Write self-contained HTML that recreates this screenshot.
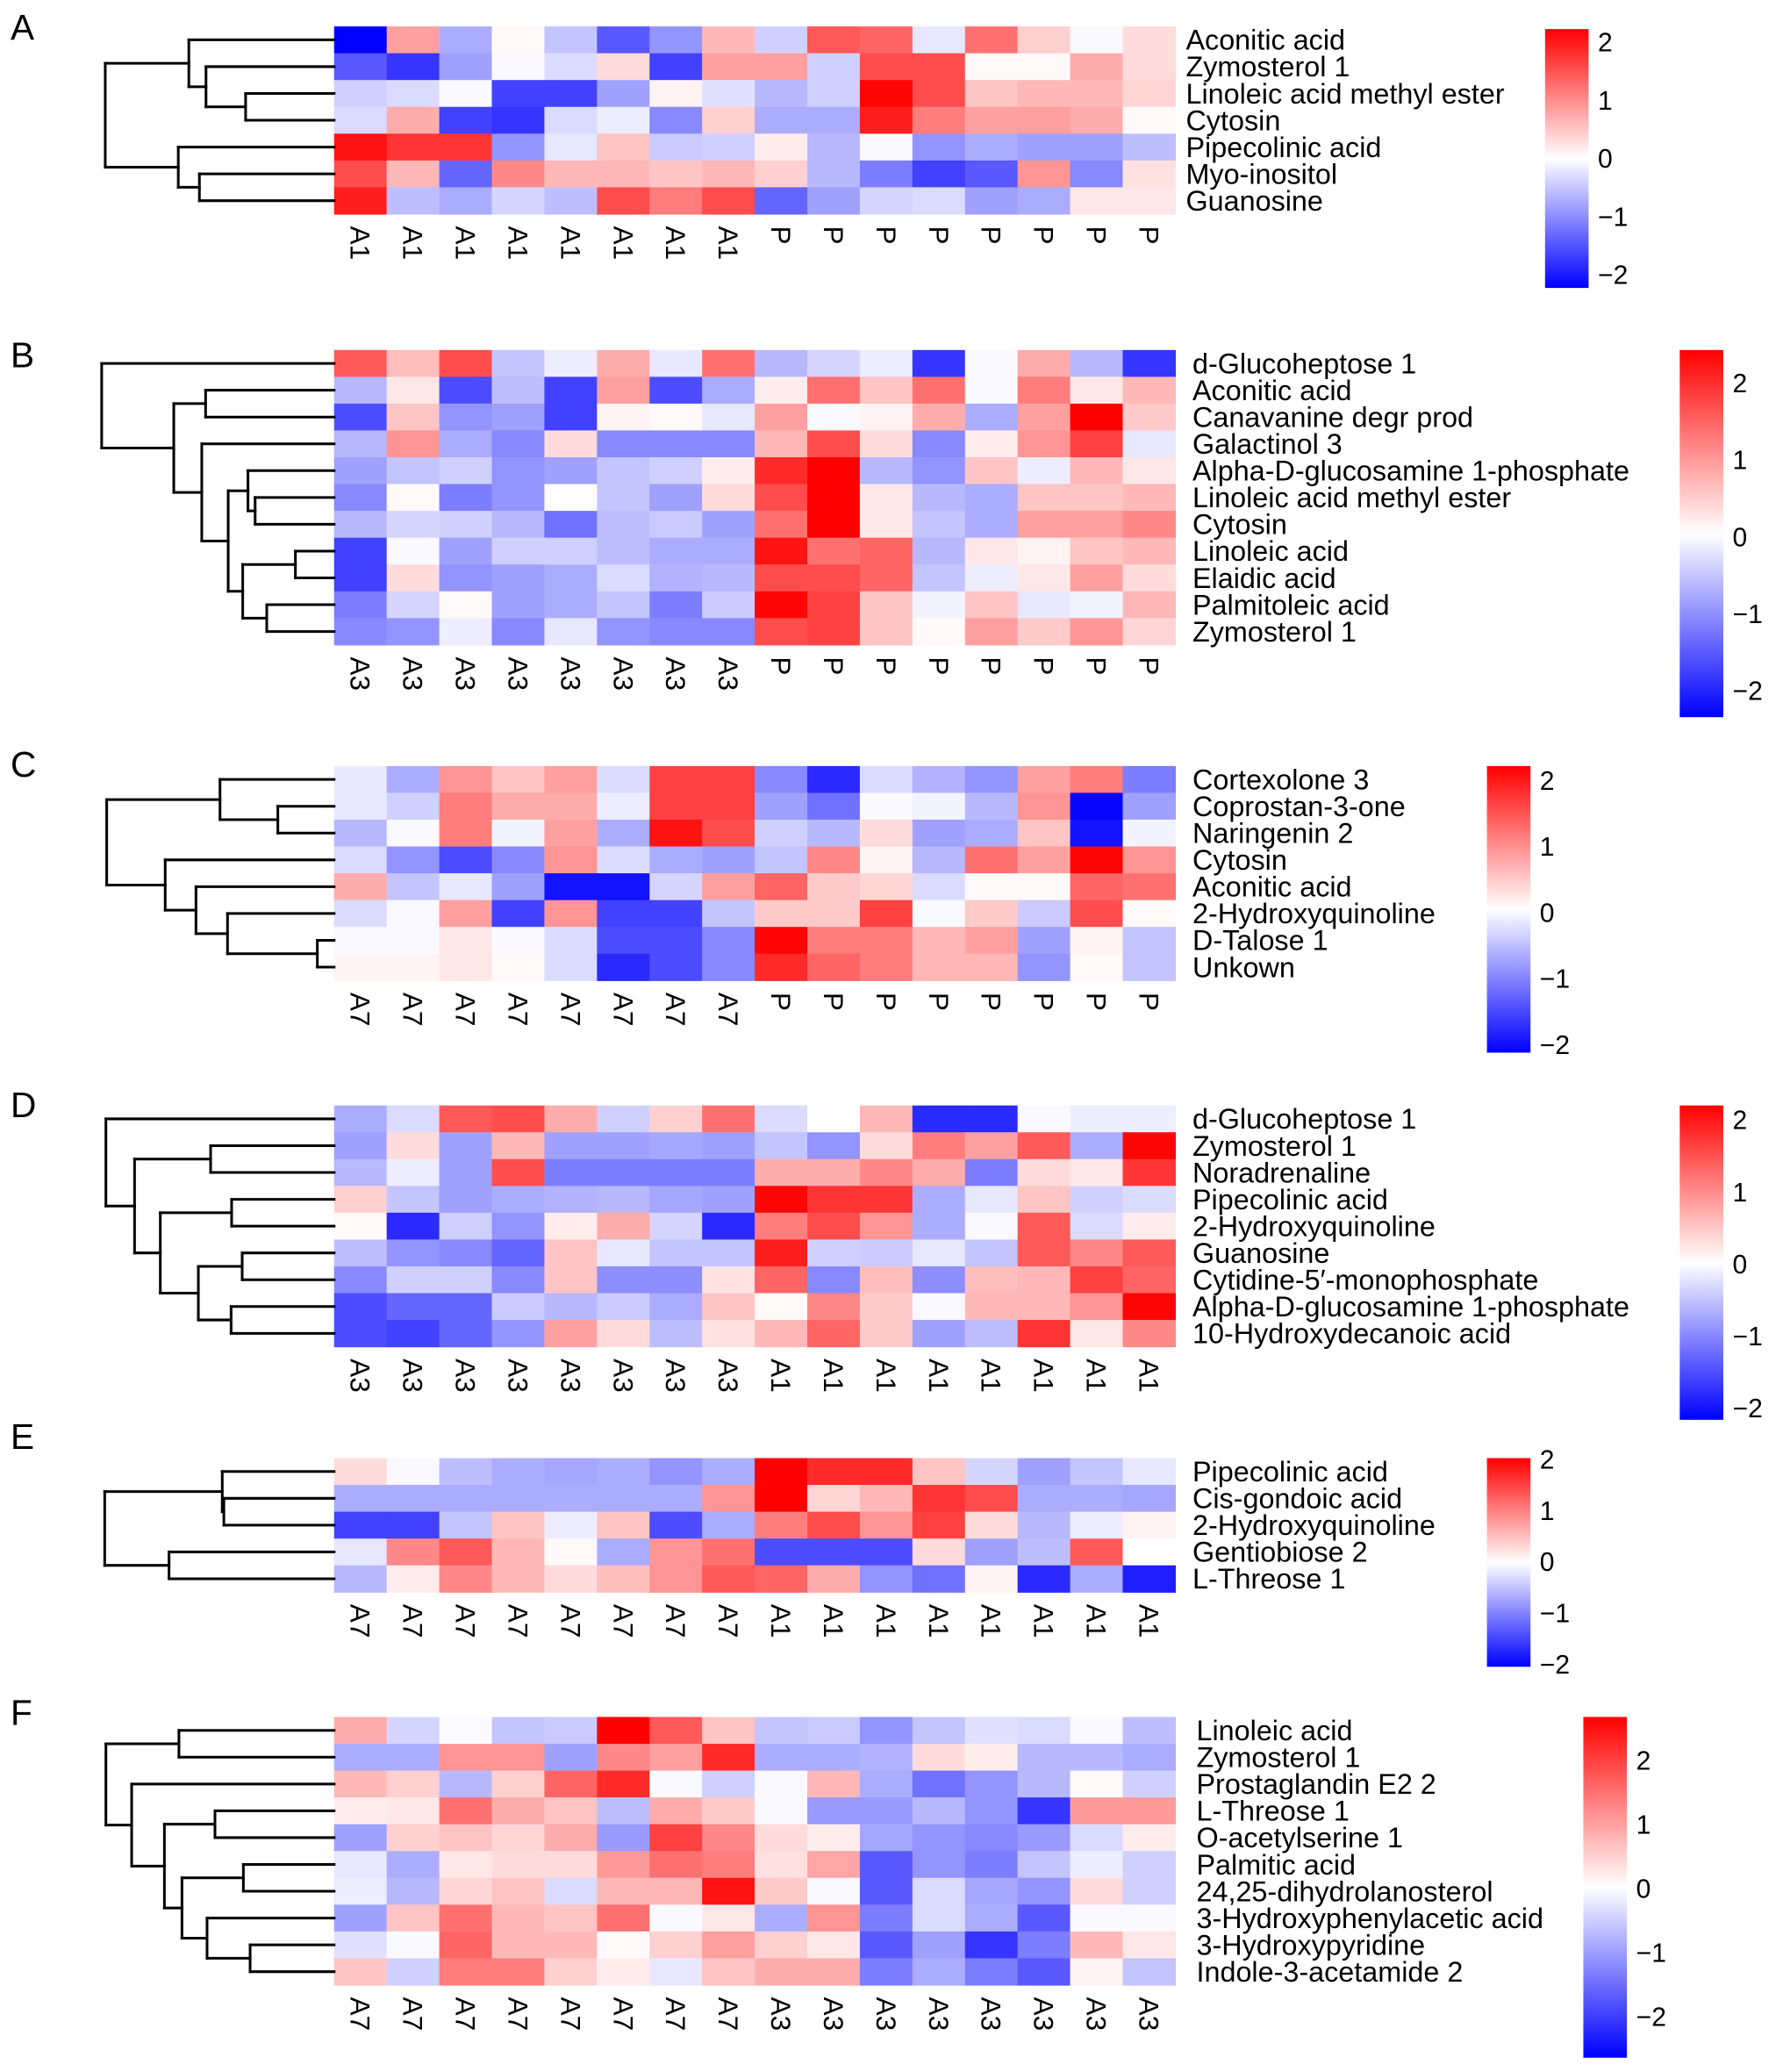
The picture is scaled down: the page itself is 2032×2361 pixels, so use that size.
<!DOCTYPE html>
<html><head><meta charset="utf-8"><style>
html,body{margin:0;padding:0;background:#fff;}
svg{display:block;font-family:"Liberation Sans",sans-serif;}
</style></head><body>
<svg id="fig" width="2032" height="2361" viewBox="0 0 1350.2 1568.8" xmlns="http://www.w3.org/2000/svg"></svg>
<script>
// ---- data ----
const rowsA = ["Aconitic acid","Zymosterol 1","Linoleic acid methyl ester","Cytosin","Pipecolinic acid","Myo-inositol","Guanosine"];
const colsA = ["A1","A1","A1","A1","A1","A1","A1","A1","P","P","P","P","P","P","P","P"];
const valsA = [
[-2.2,0.8,-0.7,0.05,-0.5,-1.4,-0.9,0.6,-0.4,1.4,1.3,-0.2,1.2,0.4,-0.05,0.3],
[-1.4,-1.7,-0.8,-0.05,-0.3,0.3,-1.6,0.8,0.8,-0.4,1.5,1.5,0.05,0.05,0.7,0.3],
[-0.4,-0.3,-0.05,-1.6,-1.6,-0.8,0.1,-0.25,-0.6,-0.4,2.1,1.5,0.5,0.6,0.6,0.35],
[-0.3,0.7,-1.6,-1.7,-0.3,-0.15,-1.0,0.4,-0.7,-0.7,1.9,1.1,0.8,0.8,0.7,0.05],
[2.0,1.7,1.7,-0.9,-0.2,0.5,-0.45,-0.4,0.15,-0.6,-0.05,-0.9,-0.7,-0.8,-0.8,-0.55],
[1.5,0.6,-1.3,1.0,0.6,0.6,0.5,0.6,0.4,-0.6,-1.1,-1.6,-1.4,0.9,-1.0,0.25],
[1.9,-0.55,-0.7,-0.35,-0.55,1.5,1.1,1.5,-1.3,-0.8,-0.35,-0.3,-0.8,-0.7,0.2,0.2]];
const rowsB = ["d-Glucoheptose 1","Aconitic acid","Canavanine degr prod","Galactinol 3","Alpha-D-glucosamine 1-phosphate","Linoleic acid methyl ester","Cytosin","Linoleic acid","Elaidic acid","Palmitoleic acid","Zymosterol 1"];
const colsB = ["A3","A3","A3","A3","A3","A3","A3","A3","P","P","P","P","P","P","P","P"];
const valsB = [
[1.4,0.55,1.5,-0.5,-0.15,0.7,-0.2,1.2,-0.6,-0.35,-0.15,-1.7,-0.05,0.7,-0.6,-1.7],
[-0.6,0.2,-1.5,-0.55,-1.6,0.8,-1.5,-0.7,0.15,1.2,0.5,1.2,-0.05,1.1,0.2,0.6],
[-1.5,0.5,-0.9,-0.8,-1.6,0.1,0.05,-0.2,0.8,-0.05,0.1,0.7,-0.7,0.8,2.2,0.45],
[-0.6,0.9,-0.7,-1.0,0.3,-1.0,-1.0,-1.0,0.6,1.5,0.3,-1.0,0.15,0.9,1.6,-0.2],
[-0.8,-0.5,-0.4,-0.9,-0.8,-0.5,-0.4,0.15,1.8,2.2,-0.6,-0.9,0.5,-0.15,0.6,0.2],
[-1.0,0.05,-1.1,-0.9,0.02,-0.5,-0.8,0.3,1.5,2.2,0.2,-0.6,-0.7,0.5,0.5,0.6],
[-0.6,-0.35,-0.4,-0.6,-1.2,-0.55,-0.45,-0.8,1.2,2.2,0.2,-0.5,-0.7,0.8,0.8,1.0],
[-1.6,-0.05,-0.8,-0.4,-0.4,-0.55,-0.7,-0.7,2.0,1.2,1.3,-0.6,0.2,0.1,0.5,0.6],
[-1.6,0.3,-0.9,-0.8,-0.7,-0.3,-0.65,-0.6,1.5,1.5,1.3,-0.5,-0.15,0.2,0.8,0.3],
[-1.1,-0.35,0.05,-0.8,-0.7,-0.5,-1.1,-0.45,2.1,1.6,0.5,-0.1,0.5,-0.2,-0.1,0.6],
[-1.0,-0.9,-0.15,-1.0,-0.2,-0.9,-1.0,-1.0,1.5,1.6,0.5,0.05,0.8,0.45,0.9,0.35]];
const rowsC = ["Cortexolone 3","Coprostan-3-one","Naringenin 2","Cytosin","Aconitic acid","2-Hydroxyquinoline","D-Talose 1","Unkown"];
const colsC = ["A7","A7","A7","A7","A7","A7","A7","A7","P","P","P","P","P","P","P","P"];
const valsC = [
[-0.2,-0.7,0.9,0.5,0.8,-0.3,1.6,1.6,-1.0,-1.8,-0.3,-0.65,-0.9,0.8,1.1,-1.1],
[-0.2,-0.4,1.1,0.7,0.7,-0.15,1.6,1.6,-0.8,-1.2,-0.05,-0.1,-0.6,0.9,-2.1,-0.8],
[-0.6,-0.05,1.1,-0.1,0.8,-0.7,2.0,1.5,-0.4,-0.6,0.3,-0.8,-0.7,0.5,-2.0,-0.1],
[-0.3,-0.9,-1.5,-1.0,0.9,-0.3,-0.7,-0.8,-0.5,1.0,0.1,-0.6,1.2,0.8,2.1,0.9],
[0.7,-0.5,-0.2,-0.8,-2.0,-2.0,-0.35,0.8,1.3,0.45,0.35,-0.3,0.05,0.05,1.3,1.2],
[-0.3,-0.05,0.8,-1.6,0.9,-1.6,-1.6,-0.5,0.45,0.45,1.6,-0.05,0.45,-0.45,1.5,0.05],
[-0.05,-0.05,0.2,-0.05,-0.3,-1.5,-1.5,-1.0,2.1,1.1,1.1,0.6,0.8,-0.8,0.1,-0.5],
[0.1,0.1,0.2,0.05,-0.3,-1.8,-1.5,-1.0,1.8,1.3,1.1,0.6,0.6,-0.9,0.05,-0.5]];
const rowsD = ["d-Glucoheptose 1","Zymosterol 1","Noradrenaline","Pipecolinic acid","2-Hydroxyquinoline","Guanosine","Cytidine-5\u2032-monophosphate","Alpha-D-glucosamine 1-phosphate","10-Hydroxydecanoic acid"];
const colsD = ["A3","A3","A3","A3","A3","A3","A3","A3","A1","A1","A1","A1","A1","A1","A1","A1"];
const valsD = [
[-0.7,-0.3,1.4,1.5,0.7,-0.4,0.4,1.2,-0.3,0.02,0.6,-1.8,-1.8,-0.05,-0.15,-0.15],
[-0.8,0.3,-0.8,0.6,-0.8,-0.8,-0.75,-0.8,-0.5,-0.9,0.3,1.1,0.8,1.4,-0.7,2.1],
[-0.6,-0.15,-0.8,1.5,-1.1,-1.1,-1.1,-1.1,0.7,0.7,1.0,0.7,-1.1,0.3,0.2,1.7],
[0.4,-0.5,-0.8,-0.7,-0.65,-0.6,-0.75,-0.8,2.1,1.7,1.7,-0.7,-0.2,0.5,-0.4,-0.3],
[0.05,-1.8,-0.4,-0.9,0.15,0.7,-0.35,-1.8,1.1,1.5,0.9,-0.7,-0.05,1.4,-0.3,0.15],
[-0.55,-0.9,-1.0,-1.3,0.5,-0.2,-0.5,-0.5,1.9,-0.4,-0.45,-0.2,-0.5,1.4,1.0,1.4],
[-1.0,-0.4,-0.4,-1.0,0.5,-0.95,-0.95,0.25,1.3,-1.0,0.55,-0.95,0.55,0.6,1.6,1.3],
[-1.5,-1.3,-1.3,-0.45,-0.6,-0.45,-0.7,0.5,0.05,1.0,0.45,-0.05,0.6,0.6,0.9,2.1],
[-1.5,-1.6,-1.3,-0.9,0.8,0.3,-0.55,0.25,0.6,1.3,0.45,-0.8,-0.55,1.7,0.2,1.0]];
const rowsE = ["Pipecolinic acid","Cis-gondoic acid","2-Hydroxyquinoline","Gentiobiose 2","L-Threose 1"];
const colsE = ["A7","A7","A7","A7","A7","A7","A7","A7","A1","A1","A1","A1","A1","A1","A1","A1"];
const valsE = [
[0.3,-0.05,-0.55,-0.7,-0.75,-0.7,-0.9,-0.7,2.2,1.8,1.8,0.5,-0.35,-0.8,-0.5,-0.2],
[-0.7,-0.7,-0.7,-0.7,-0.7,-0.7,-0.7,0.9,2.2,0.35,0.6,1.7,1.5,-0.7,-0.7,-0.75],
[-1.6,-1.6,-0.5,0.5,-0.15,0.5,-1.5,-0.7,1.1,1.5,0.9,1.6,0.3,-0.6,-0.15,0.1],
[-0.2,1.0,1.4,0.6,0.05,-0.7,0.9,1.2,-1.5,-1.5,-1.5,0.3,-0.8,-0.55,1.4,0.02],
[-0.6,0.15,1.0,0.6,0.3,0.55,0.9,1.4,1.3,0.7,-0.9,-1.2,0.1,-1.8,-0.7,-1.9]];
const rowsF = ["Linoleic acid","Zymosterol 1","Prostaglandin E2 2","L-Threose 1","O-acetylserine 1","Palmitic acid","24,25-dihydrolanosterol","3-Hydroxyphenylacetic acid","3-Hydroxypyridine","Indole-3-acetamide 2"];
const colsF = ["A7","A7","A7","A7","A7","A7","A7","A7","A3","A3","A3","A3","A3","A3","A3","A3"];
const valsF = [
[0.7,-0.35,-0.03,-0.5,-0.45,2.2,1.4,0.5,-0.5,-0.45,-0.9,-0.5,-0.25,-0.3,-0.05,-0.55],
[-0.7,-0.7,0.9,0.9,-0.8,1.0,0.8,1.8,-0.7,-0.7,-0.65,0.3,0.15,-0.6,-0.6,-0.7],
[0.6,0.4,-0.6,0.4,1.3,1.8,-0.05,-0.4,-0.05,0.6,-0.7,-1.2,-0.9,-0.6,0.05,-0.4],
[0.15,0.2,1.2,0.7,0.5,-0.55,0.7,0.45,-0.05,-0.85,-0.85,-0.6,-0.9,-1.7,0.85,0.85],
[-0.8,0.4,0.5,0.35,0.7,-0.85,1.6,1.0,0.3,0.15,-0.75,-0.9,-1.0,-0.85,-0.3,0.15],
[-0.2,-0.7,0.2,0.3,0.3,0.85,1.2,1.1,0.25,0.75,-1.4,-0.9,-1.1,-0.5,-0.15,-0.4],
[-0.15,-0.6,0.35,0.5,-0.3,0.6,0.6,2.0,0.45,-0.05,-1.4,-0.3,-0.75,-0.9,0.3,-0.4],
[-0.8,0.5,1.2,0.6,0.5,1.2,-0.05,0.2,-0.7,0.9,-1.1,-0.3,-0.7,-1.4,-0.05,-0.05],
[-0.25,-0.05,1.3,0.6,0.6,0.05,0.4,0.8,0.4,0.2,-1.4,-0.8,-1.7,-1.1,0.6,0.2],
[0.5,-0.4,1.1,1.1,0.4,0.15,-0.2,0.5,0.7,0.7,-1.1,-0.7,-1.1,-1.4,0.1,-0.5]];
const legendTicks = [2,1,0,-1,-2];

// ---- layout (display units) ----
const panels = [
 {id:"a",letter:"A",ly:21,rows:rowsA,cols:colsA,vals:valsA,top:20,lx:898,
  tree:{x:79.7,a:{x:143,a:0,b:{x:156,a:1,b:{x:186,a:2,b:3}}},b:{x:135,a:4,b:{x:151,a:5,b:6}}},
  leg:{x:1170,top:22,t2:32,tm2:208,bot:218}},
 {id:"b",letter:"B",ly:269,rows:rowsB,cols:colsB,vals:valsB,top:265,lx:903,
  tree:{x:77,a:0,b:{x:131.6,a:{x:155.7,a:1,b:2},b:{x:152.8,a:3,b:{x:172.8,a:{x:187.8,a:4,b:{x:193.2,a:5,b:6}},b:{x:183.8,a:{x:223.7,a:7,b:8},b:{x:202,a:9,b:10}}}}}},
  leg:{x:1272,top:265,t2:290,tm2:523,bot:543}},
 {id:"c",letter:"C",ly:579,rows:rowsC,cols:colsC,vals:valsC,top:580,lx:903,
  tree:{x:80.8,a:{x:166.6,a:0,b:{x:210.4,a:1,b:2}},b:{x:125.1,a:3,b:{x:148.4,a:4,b:{x:172.3,a:5,b:{x:240.3,a:6,b:7}}}}},
  leg:{x:1126,top:580,t2:591,tm2:791,bot:797}},
 {id:"d",letter:"D",ly:837,rows:rowsD,cols:colsD,vals:valsD,top:837,lx:903,
  tree:{x:80.2,a:0,b:{x:101.9,a:{x:159.5,a:1,b:2},b:{x:121.4,a:{x:175.4,a:3,b:4},b:{x:150.2,a:{x:183.4,a:5,b:6},b:{x:175,a:7,b:8}}}}},
  leg:{x:1272,top:837,t2:848,tm2:1066,bot:1075}},
 {id:"e",letter:"E",ly:1088,rows:rowsE,cols:colsE,vals:valsE,top:1104,lx:903,
  tree:{x:79.3,a:{x:168.3,a:0,b:{x:169.5,a:1,b:2}},b:{x:128,a:3,b:4}},
  leg:{x:1126,top:1104,t2:1105,tm2:1260,bot:1262}},
 {id:"f",letter:"F",ly:1297,rows:rowsF,cols:colsF,vals:valsF,top:1300,lx:906,
  tree:{x:80.2,a:{x:135.5,a:0,b:1},b:{x:99.7,a:2,b:{x:124.5,a:{x:162.8,a:3,b:4},b:{x:137.8,a:{x:184.3,a:5,b:6},b:{x:156.8,a:7,b:{x:189.4,a:8,b:9}}}}}},
  leg:{x:1199,top:1300,t2:1333,tm2:1527,bot:1558}}
];
const X0=253, X1=890, RH=20.3;
const NS="http://www.w3.org/2000/svg";
const svg=document.getElementById("fig");
function mk(tag,attrs,parent){const e=document.createElementNS(NS,tag);for(const k in attrs)e.setAttribute(k,attrs[k]);(parent||svg).appendChild(e);return e;}
function color(v){
  let t=Math.max(-1,Math.min(1,v/2.15));
  let r,g,b;
  if(t>=0){r=255;g=Math.round(255*(1-t));b=g;}else{b=255;r=Math.round(255*(1+t));g=r;}
  return `rgb(${r},${g},${b})`;
}
const defs=mk("defs",{});
const grad=mk("linearGradient",{id:"lg",x1:"0",y1:"0",x2:"0",y2:"1"},defs);
[["0%","#ff0000"],["50%","#ffffff"],["100%","#0000ff"]].forEach(s=>mk("stop",{offset:s[0],"stop-color":s[1]},grad));

panels.forEach(p=>{
  const g=mk("g",{});
  
  
  const nC=p.cols.length, cw=(X1-X0)/nC;
  const xs=c=>X0+c*cw, ys=r=>p.top+r*RH;
  const L=mk("text",{x:8,y:p.ly+9,"font-size":27,fill:"#000"},g);
  L.textContent=p.letter;
  
  
  p.vals.forEach((row,r)=>row.forEach((v,c)=>{
    const rc=mk("rect",{x:xs(c),y:ys(r),width:cw+0.4,height:RH+0.4,fill:color(v)},g);
    
    
  }));
  p.rows.forEach((n,r)=>{
    const t=mk("text",{x:p.lx,y:ys(r)+RH/2+7.5,"font-size":21.5,fill:"#000"},g);
    t.textContent=n;
    
    
  });
  const by=ys(p.rows.length)+9;
  p.cols.forEach((n,c)=>{
    const cx=xs(c)+cw/2;
    const t=mk("text",{x:cx,y:by,"font-size":21,fill:"#000",transform:`rotate(90 ${cx} ${by})`,"dominant-baseline":"central"},g);
    t.textContent=n;
    
    
  });
  const tg=mk("g",{stroke:"#000","stroke-width":2,fill:"none","stroke-linecap":"square"},g);
  
  
  function draw(node,parentX){
    let y;
    if(typeof node==="number"){y=ys(node)+RH/2;mk("line",{x1:parentX,y1:y,x2:X0,y2:y},tg);return y;}
    const ya=draw(node.a,node.x), yb=draw(node.b,node.x);
    mk("line",{x1:node.x,y1:ya,x2:node.x,y2:yb},tg);
    y=(ya+yb)/2;
    if(parentX!==null) mk("line",{x1:parentX,y1:y,x2:node.x,y2:y},tg);
    return y;
  }
  draw(p.tree,null);
  const lg=p.leg, span=(lg.tm2-lg.t2)/4, zero=(lg.t2+lg.tm2)/2;
  const lv=v=>zero-v*span;
  const bar=mk("rect",{x:lg.x,y:lg.top,width:33,height:lg.bot-lg.top,fill:"url(#lg)"},g);
  
  
  legendTicks.forEach(v=>{
    const t=mk("text",{x:lg.x+40,y:lv(v)+7,"font-size":20,fill:"#000"},g);
    t.textContent=v<0?"\u2212"+(-v):String(v);
    
    
  });
});
</script>
</body></html>
